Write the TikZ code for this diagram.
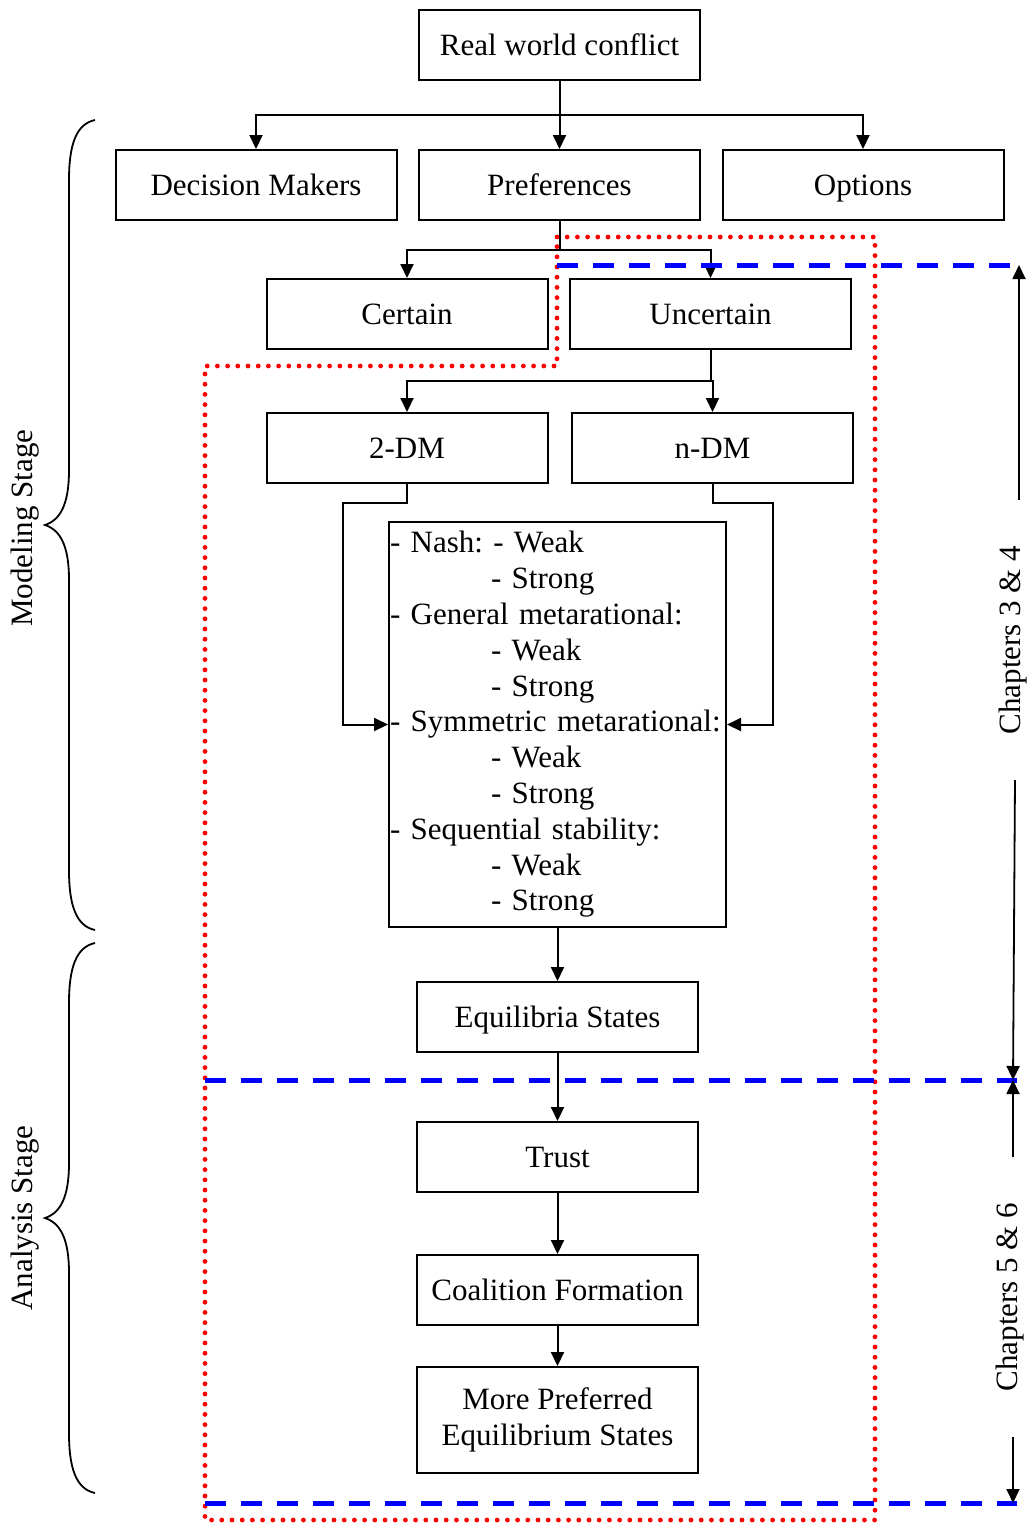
\documentclass[tikz,border=0pt]{standalone}
\usepackage{fontspec}
\setmainfont{Liberation Serif}
\usetikzlibrary{arrows.meta}
\begin{document}
\frenchspacing
\begin{tikzpicture}[x=1pt,y=-1pt,
 box/.style={draw,line width=2pt,minimum width=281pt,minimum height=70pt,inner sep=0pt,font=\fontsize{31}{35.8}\selectfont},
 one/.style={text height=20.5pt,text depth=0pt},
 arr/.style={line width=2pt,-{Triangle[length=14pt,width=13pt]}},
 carr/.style={line width=1.8pt,-{Triangle[length=14pt,width=13pt]}},
 reddot/.style={red,line width=4.8pt,line cap=round,dash pattern=on 0pt off 10.2pt},
 bluedash/.style={blue,line width=5pt,dash pattern=on 21pt off 15pt},
 lbl/.style={font=\fontsize{31}{36}\selectfont,rotate=90,inner sep=0pt},
 brc/.style={line width=1.8pt}]
\useasboundingbox (0,0) rectangle (1032,1524);

% boxes
\node[box,one] (rwc) at (559.5,45) {Real world conflict};
\node[box,one] (dm) at (256,185) {Decision Makers};
\node[box,one] (pref) at (559.5,185) {Preferences};
\node[box,one] (opt) at (863,185) {Options};
\node[box,one] (cert) at (407,314) {Certain};
\node[box,one] (unc) at (710.5,314) {Uncertain};
\node[box,one] (twodm) at (407,448) {2-DM};
\node[box,one] (ndm) at (712.5,448) {n-DM};
\node[box,minimum width=337pt,minimum height=405pt,text width=335pt,align=left,inner xsep=1pt] (big) at (557.5,724.5)
 {- Nash: - Weak\\\hspace*{101pt}- Strong\\- General metarational:\\\hspace*{101pt}- Weak\\\hspace*{101pt}- Strong\\- Symmetric metarational:\\\hspace*{101pt}- Weak\\\hspace*{101pt}- Strong\\- Sequential stability:\\\hspace*{101pt}- Weak\\\hspace*{101pt}- Strong};
\node[box,one] (eq) at (557.5,1017) {Equilibria States};
\node[box,one] (trust) at (557.5,1157) {Trust};
\node[box,one] (coal) at (557.5,1290) {Coalition Formation};
\node[box,minimum height=106pt,align=center] (more) at (557.5,1420) {More Preferred\\Equilibrium States};

% connectors
\coordinate (j1) at (559.5,115);
\draw[line width=2pt] (rwc.south) -- (j1);
\draw[arr] (j1) -| (dm.north);
\draw[arr] (j1) -- (pref.north);
\draw[arr] (j1) -| (opt.north);

\coordinate (j2) at (559.5,250);
\draw[line width=2pt] (pref.south) -- (j2);
\draw[arr] (j2) -| (cert.north);
\draw[arr] (j2) -| (unc.north);

\coordinate (j3) at (710.5,381);
\draw[line width=2pt] (unc.south) -- (j3);
\draw[arr] (j3) -| (twodm.north);
\draw[arr] (j3) -| (ndm.north);

\coordinate (l1) at (343,503);
\coordinate (r1) at (773,503);
\draw[arr] (twodm.south) |- (l1) |- (big.west);
\draw[arr] (ndm.south) |- (r1) |- (big.east);

\draw[arr] (big.south) -- (eq.north);
\draw[arr] (eq.south) -- (trust.north);
\draw[arr] (trust.south) -- (coal.north);
\draw[arr] (coal.south) -- (more.north);

% red dotted region
\draw[reddot] (557,237) -- (875,237) -- (875,1520) -- (205,1520) -- (205,366) -- (557,366) -- cycle;

% blue dashed lines
\draw[bluedash] (557,265) -- (1017,265);
\draw[bluedash] (205,1080) -- (1017,1080);
\draw[bluedash] (205,1503) -- (1017,1503);

% chapter markers
\coordinate (c1a) at (1019,500);
\coordinate (c1b) at (1019,265);
\coordinate (c2a) at (1015,780);
\coordinate (c2b) at (1013,1080);
\coordinate (c3a) at (1013,1157);
\coordinate (c4a) at (1013,1437);
\coordinate (c4b) at (1013,1503);
\draw[carr] (c1a) -- (c1b);
\draw[carr] (c2a) -- (c2b);
\draw[carr] (c3a) -- (c2b);
\draw[carr] (c4a) -- (c4b);
\node[lbl] (ch34) at (1013,640) {Chapters 3 \& 4};
\node[lbl] (ch56) at (1010,1297) {Chapters 5 \& 6};

% braces
\draw[brc] (95,120) .. controls (76,124) and (69,145) .. (69,180) -- (69,470) .. controls (69,505) and (60,520) .. (45,525) .. controls (60,530) and (69,545) .. (69,580) -- (69,870) .. controls (69,905) and (76,926) .. (95,930);
\draw[brc] (95,943) .. controls (76,947) and (69,968) .. (69,1003) -- (69,1163) .. controls (69,1198) and (60,1213) .. (45,1218) .. controls (60,1223) and (69,1238) .. (69,1273) -- (69,1433) .. controls (69,1468) and (76,1489) .. (95,1493);
\node[lbl] (ms) at (25,528) {Modeling Stage};
\node[lbl] (as) at (25,1218) {Analysis Stage};
\end{tikzpicture}
\end{document}
